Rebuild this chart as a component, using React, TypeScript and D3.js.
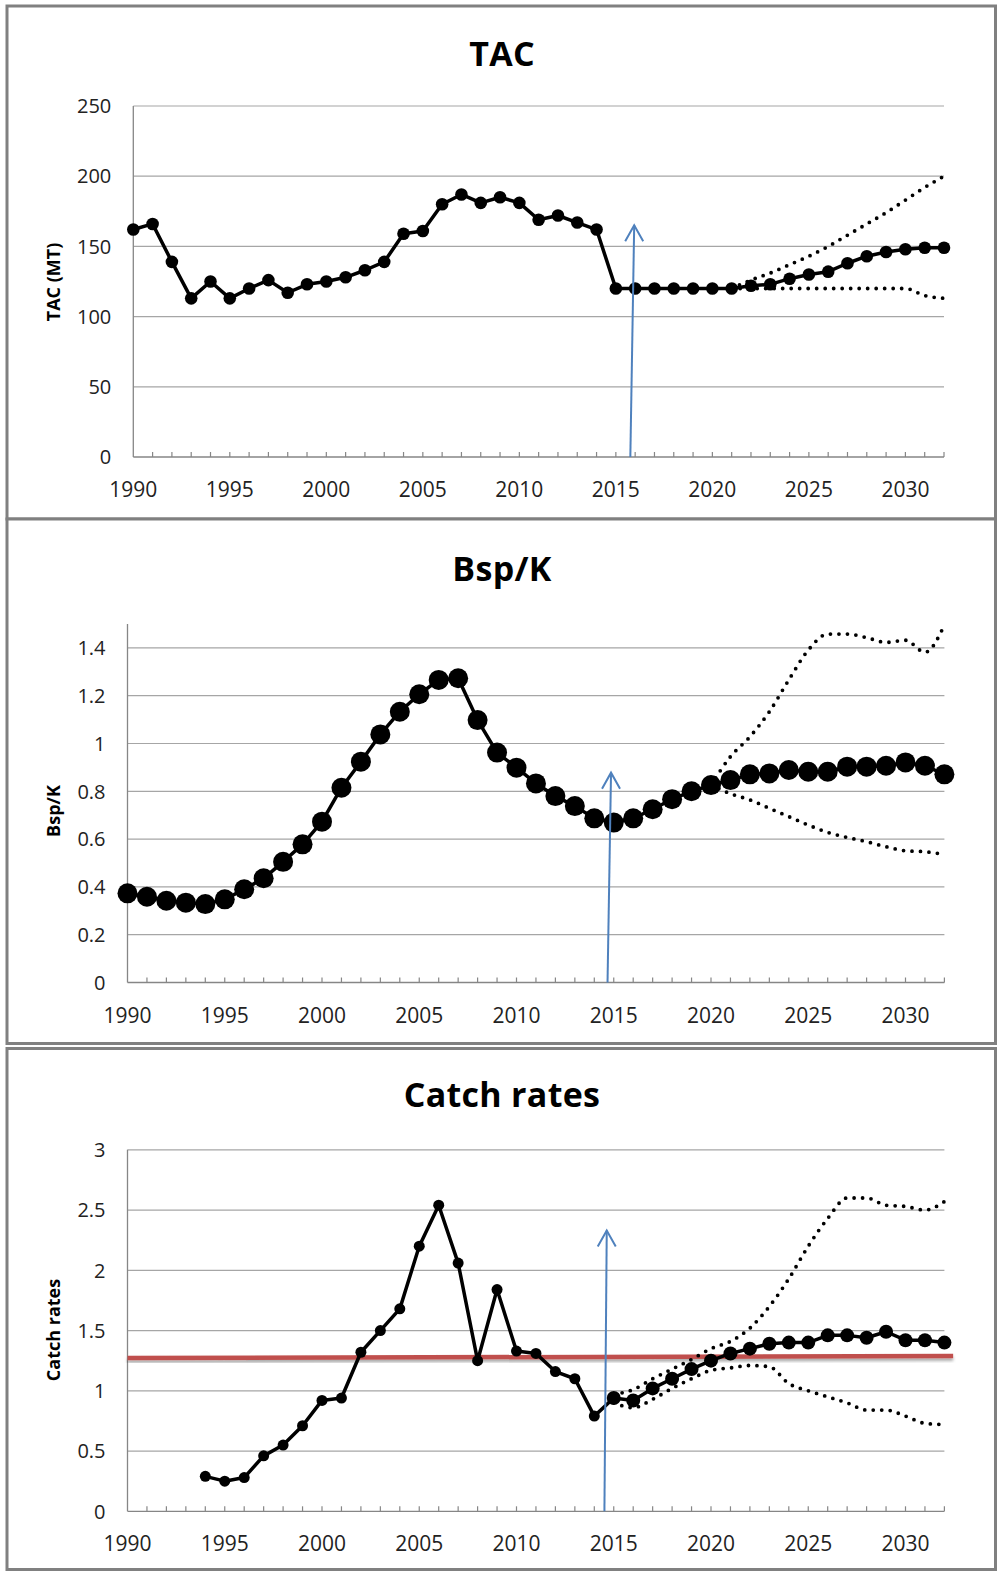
import React from 'react';
import * as d3 from 'd3';

// Years on the category axis
const allYears = d3.range(1990, 2033);
const tickYears = [1990, 1995, 2000, 2005, 2010, 2015, 2020, 2025, 2030];

// TAC (MT), 1990-2032
const tacValues = [
  162, 166, 139, 113, 125, 113, 120, 126, 117, 123,
  125, 128, 133, 139, 159, 161, 180, 187, 181, 185,
  181, 169, 172, 167, 162, 120, 120, 120, 120, 120,
  120, 120, 122, 123, 127, 130, 132, 138, 143, 146,
  148, 149, 149,
];
const tacBandYears = d3.range(2021, 2033);
const tacUpper = [120, 126, 131, 137, 143, 150, 158, 166, 174, 183, 192, 200];
const tacLower = [120, 120, 120, 120, 120, 120, 120, 120, 120, 120, 115, 113];
const tacYTicks = [0, 50, 100, 150, 200, 250];

// Bsp/K, 1990-2032
const bspValues = [
  0.373, 0.359, 0.342, 0.334, 0.328, 0.348, 0.39, 0.436, 0.505, 0.578,
  0.673, 0.815, 0.924, 1.038, 1.133, 1.206, 1.266, 1.273, 1.098, 0.962,
  0.899, 0.833, 0.78, 0.738, 0.687, 0.669, 0.687, 0.725, 0.767, 0.8,
  0.826, 0.847, 0.871, 0.875, 0.889, 0.882, 0.882, 0.903, 0.903, 0.907,
  0.921, 0.907, 0.871,
];
const bspBandYears = d3.range(2020, 2033);
const bspUpper = [0.826, 0.945, 1.028, 1.133, 1.266, 1.391, 1.458, 1.458, 1.443, 1.423, 1.432, 1.382, 1.496];
const bspLower = [0.826, 0.79, 0.764, 0.729, 0.694, 0.659, 0.628, 0.607, 0.589, 0.568, 0.551, 0.547, 0.536];
const bspYTicks = [0, 0.2, 0.4, 0.6, 0.8, 1, 1.2, 1.4];

// Catch rates: observed 1994-2014, projected 2015-2032
const catchHistYears = d3.range(1994, 2015);
const catchHist = [
  0.29, 0.25, 0.28, 0.46, 0.55, 0.71, 0.92, 0.94, 1.32, 1.5,
  1.68, 2.2, 2.54, 2.06, 1.25, 1.84, 1.33, 1.31, 1.16, 1.1,
  0.79,
];
const catchProjYears = d3.range(2015, 2033);
const catchProj = [0.94, 0.92, 1.02, 1.1, 1.18, 1.25, 1.31, 1.35, 1.39, 1.4, 1.4, 1.46, 1.46, 1.44, 1.49, 1.42, 1.42, 1.4];
const catchUpper = [0.97, 1.01, 1.1, 1.18, 1.26, 1.35, 1.41, 1.52, 1.7, 1.93, 2.2, 2.43, 2.6, 2.6, 2.54, 2.53, 2.5, 2.57];
const catchLower = [0.9, 0.86, 0.93, 1.02, 1.1, 1.17, 1.19, 1.21, 1.2, 1.06, 1.0, 0.95, 0.9, 0.84, 0.84, 0.79, 0.73, 0.72];
const catchYTicks = [0, 0.5, 1, 1.5, 2, 2.5, 3];
const catchReference = 1.28;

// Blue arrows marking the start of the projection (year at foot, year and value at tip)
const tacArrow = [2015.75, 2015.95, 165];
const bspArrow = [2014.68, 2014.86, 0.878];
const catchArrow = [2014.52, 2014.64, 2.33];

const FONT = "'Open Sans', 'DejaVu Sans', sans-serif";
const AXIS = '#868686';
const GRID = '#a6a6a6';
const BLUE = '#4f81bd';

const pts = (xs, ys) => xs.map((x, i) => [x, ys[i]]);

const Panel = ({ frame, title, titleY, yTitle, yTitleY, xRange, yRange, yDomain, yTicks, children }) => {
  const x = d3.scaleLinear().domain([1990, 2032]).range(xRange);
  const y = d3.scaleLinear().domain(yDomain).range(yRange);
  const x0 = xRange[0];
  const x1 = xRange[1];
  const y0 = y(0);
  return (
    <g>
      <rect x={frame[0]} y={frame[1]} width={frame[2] - frame[0]} height={frame[3] - frame[1]}
        fill="#fff" stroke="#808080" strokeWidth={3} />
      <text x={502} y={titleY} textAnchor="middle" fontFamily={FONT} fontWeight="bold" fontSize={34}
        letterSpacing={0.3} fill="#000">{title}</text>
      <text transform={`translate(60,${yTitleY}) rotate(-90)`} textAnchor="middle" fontFamily={FONT}
        fontWeight="bold" fontSize={18} fill="#000">{yTitle}</text>
      {yTicks.filter(t => t > 0).map(t => (
        <line key={`g${t}`} x1={x0} x2={x1} y1={y(t)} y2={y(t)} stroke={GRID} strokeWidth={1.2} />
      ))}
      {yTicks.map(t => (
        <text key={`yl${t}`} x={x0 - 22} y={y(t)} dy="0.36em" textAnchor="end" fontFamily={FONT}
          fontSize={20} fill="#222">{d3.format('~g')(t)}</text>
      ))}
      <line x1={x0} x2={x0} y1={yRange[1]} y2={y0} stroke={AXIS} strokeWidth={1.3} />
      <line x1={x0} x2={x1} y1={y0} y2={y0} stroke={AXIS} strokeWidth={1.3} />
      {allYears.filter(yr => yr > 1990).map(yr => (
        <line key={`t${yr}`} x1={x(yr)} x2={x(yr)} y1={y0} y2={y0 - 5} stroke={AXIS} strokeWidth={1.2} />
      ))}
      {tickYears.map(yr => (
        <text key={`xl${yr}`} x={x(yr)} y={y0 + 40} textAnchor="middle" fontFamily={FONT} fontSize={21}
          fill="#222">{yr}</text>
      ))}
      {children(x, y)}
    </g>
  );
};

const solid = (x, y, data) => d3.line().x(d => x(d[0])).y(d => y(d[1]))(data);
const smooth = (x, y, data) => d3.line().x(d => x(d[0])).y(d => y(d[1])).curve(d3.curveMonotoneX)(data);

const Dotted = ({ d }) => (
  <path d={d} fill="none" stroke="#000" strokeWidth={3.8} strokeLinecap="round" strokeDasharray="0 8.5" />
);

const Markers = ({ x, y, data, r }) => (
  <g>
    {data.map(p => <circle key={p[0]} cx={x(p[0])} cy={y(p[1])} r={r} fill="#000" />)}
  </g>
);

const Arrow = ({ x, y, spec }) => {
  const bx = x(spec[0]);
  const by = y(0);
  const tx = x(spec[1]);
  const ty = y(spec[2]);
  return (
    <g stroke={BLUE} strokeWidth={2} fill="none">
      <line x1={bx} y1={by} x2={tx} y2={ty} />
      <polyline points={`${tx - 9},${ty + 16} ${tx},${ty} ${tx + 9},${ty + 16}`} />
    </g>
  );
};

export default function App() {
  const tac = pts(allYears, tacValues);
  const bsp = pts(allYears, bspValues);
  const hist = pts(catchHistYears, catchHist);
  const proj = pts(catchProjYears, catchProj);
  return (
    <svg width={997} height={1572} style={{ position: 'absolute', left: 0, top: 0, background: '#fff' }}>
      <defs>
        <filter id="shadow" x="-5%" y="-200%" width="110%" height="500%">
          <feDropShadow dx="0" dy="2.5" stdDeviation="1.6" floodColor="#000" floodOpacity="0.35" />
        </filter>
      </defs>

      <Panel frame={[7, 6, 995.5, 519]} title="TAC" titleY={66} yTitle="TAC (MT)" yTitleY={282}
        xRange={[133.3, 944]} yRange={[457, 106]} yDomain={[0, 250]} yTicks={tacYTicks}>
        {(x, y) => (
          <g>
            <Dotted d={smooth(x, y, pts(tacBandYears, tacUpper))} />
            <Dotted d={smooth(x, y, pts(tacBandYears, tacLower))} />
            <path d={solid(x, y, tac)} fill="none" stroke="#000" strokeWidth={3.5} strokeLinejoin="round" />
            <Markers x={x} y={y} data={tac} r={6.3} />
            <Arrow x={x} y={y} spec={tacArrow} />
          </g>
        )}
      </Panel>

      <Panel frame={[7, 519, 995.5, 1043.5]} title="Bsp/K" titleY={581} yTitle="Bsp/K" yTitleY={811}
        xRange={[127.5, 944.4]} yRange={[982.5, 624]} yDomain={[0, 1.5]} yTicks={bspYTicks}>
        {(x, y) => (
          <g>
            <Dotted d={smooth(x, y, pts(bspBandYears, bspUpper))} />
            <Dotted d={smooth(x, y, pts(bspBandYears, bspLower))} />
            <path d={solid(x, y, bsp)} fill="none" stroke="#000" strokeWidth={3.5} strokeLinejoin="round" />
            <Markers x={x} y={y} data={bsp} r={10} />
            <Arrow x={x} y={y} spec={bspArrow} />
          </g>
        )}
      </Panel>

      <Panel frame={[7, 1048.5, 995.5, 1569.5]} title="Catch rates" titleY={1107} yTitle="Catch rates" yTitleY={1330}
        xRange={[127.5, 944.4]} yRange={[1511.3, 1149.8]} yDomain={[0, 3]} yTicks={catchYTicks}>
        {(x, y) => (
          <g>
            <line x1={x(1990)} x2={x(2032.45)} y1={y(catchReference) + 1} y2={y(catchReference) - 1}
              stroke="#c0504d" strokeWidth={4.5} filter="url(#shadow)" />
            <Dotted d={smooth(x, y, pts(catchProjYears, catchUpper))} />
            <Dotted d={smooth(x, y, pts(catchProjYears, catchLower))} />
            <path d={solid(x, y, hist.concat(proj))} fill="none" stroke="#000" strokeWidth={3.5}
              strokeLinejoin="round" />
            <Markers x={x} y={y} data={hist} r={5.5} />
            <Markers x={x} y={y} data={proj} r={7} />
            <Arrow x={x} y={y} spec={catchArrow} />
          </g>
        )}
      </Panel>
    </svg>
  );
}
